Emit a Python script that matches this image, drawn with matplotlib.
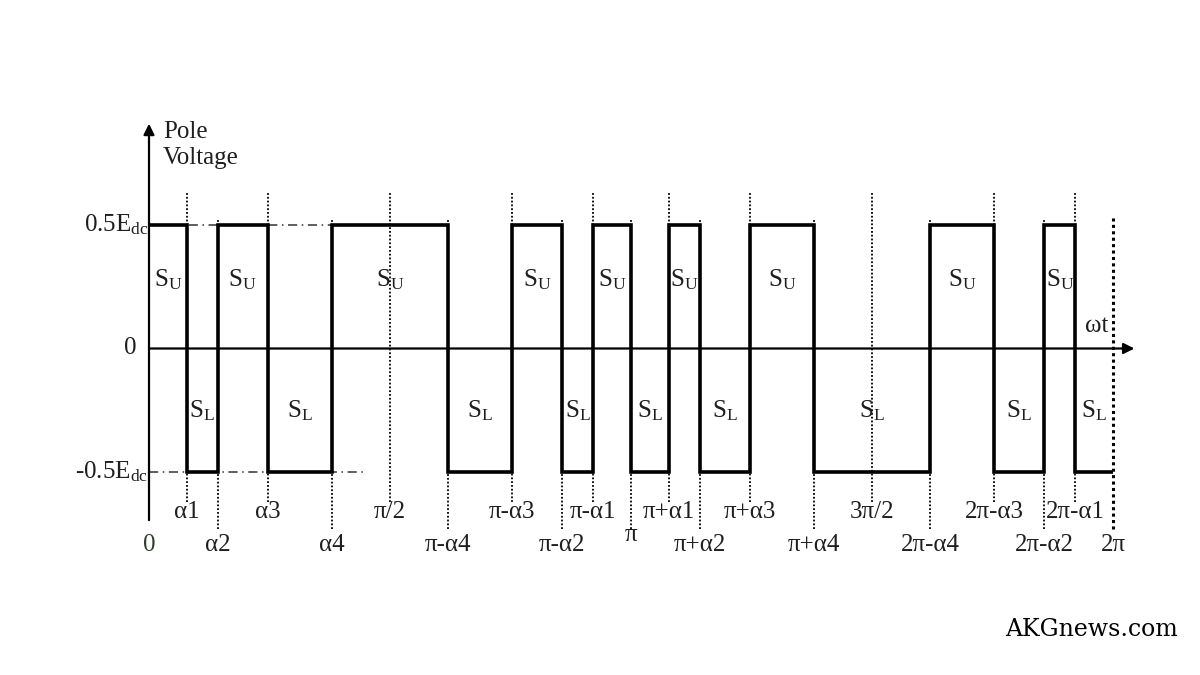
import matplotlib.pyplot as plt

plt.rcParams['font.family'] = ['Liberation Serif', 'DejaVu Serif']
plt.rcParams['mathtext.fontset'] = 'custom'
plt.rcParams['mathtext.rm'] = 'Liberation Serif'
plt.rcParams['mathtext.it'] = 'Liberation Serif:italic'

# switching angles (degrees)
alphas = [14.1, 25.6, 44.4, 68.2]
a1, a2, a3, a4 = alphas

edges = [0, a1, a2, a3, a4, 180 - a4, 180 - a3, 180 - a2, 180 - a1, 180,
         180 + a1, 180 + a2, 180 + a3, 180 + a4, 360 - a4, 360 - a3, 360 - a2, 360 - a1, 360]
pole = [0.5, -0.5, 0.5, -0.5, 0.5, -0.5, 0.5, -0.5, 0.5,
        -0.5, 0.5, -0.5, 0.5, -0.5, 0.5, -0.5, 0.5, -0.5]

tick_pos = [0, a1, a2, a3, a4, 90, 180 - a4, 180 - a3, 180 - a2, 180 - a1, 180,
            180 + a1, 180 + a2, 180 + a3, 180 + a4, 270, 360 - a4, 360 - a3, 360 - a2, 360 - a1, 360]
tick_lbl = ["0", "α1", "α2", "α3", "α4", "π/2", "π-α4", "π-α3", "π-α2", "π-α1", "π",
            "π+α1", "π+α2", "π+α3", "π+α4", "3π/2", "2π-α4", "2π-α3", "2π-α2", "2π-α1", "2π"]
tick_row = [2, 1, 2, 1, 2, 1, 2, 1, 2, 1, 2, 1, 2, 1, 2, 1, 2, 1, 2, 1, 2]

fig = plt.figure(figsize=(12, 6.75), dpi=100)
ax = fig.add_axes([0, 0, 1, 1])
ax.axis('off')
k = 964 / 360.0
ax.set_xlim(-149 / k, (1200 - 149) / k)
ax.set_ylim(-(675 - 348.5) / 247, 348.5 / 247)

txt = '#1e1e1e'
fs = 18

# dotted guide lines at the switching angles
for x, row in zip(tick_pos[1:], tick_row[1:]):
    top = 0.63 if row == 1 else 0.52
    bot = -0.62 if row == 1 else -0.73
    lw = 1.3
    if x == 360:
        top, lw = 0.54, 2.2
    ax.plot([x, x], [bot, top], color='black', lw=lw, ls=(0, (1, 1.1)), zorder=1)

# dash-dot reference levels
for lev in (0.5, -0.5):
    ax.plot([0, 80], [lev, lev], color='#333333', lw=1.1, ls=(0, (6, 3, 1, 3)), zorder=1)

# axes with arrows
ax.annotate("", xy=(368, 0), xytext=(0, 0),
            arrowprops=dict(arrowstyle='-|>', lw=1.6, color='black', mutation_scale=16, shrinkA=0, shrinkB=0))
ax.annotate("", xy=(0, 0.91), xytext=(0, -0.695),
            arrowprops=dict(arrowstyle='-|>', lw=1.6, color='black', mutation_scale=16, shrinkA=0, shrinkB=0))

# pole voltage waveform
ax.stairs(pole, edges, baseline=None, color='black', lw=2.6, zorder=3)

# S_U / S_L labels
for i, v in enumerate(pole):
    xm = (edges[i] + edges[i + 1]) / 2
    if v > 0:
        ax.text(xm, 0.28, r"S$_{\mathrm{U}}$", ha='center', va='center', fontsize=fs, color=txt)
    else:
        ax.text(xm, -0.25, r"S$_{\mathrm{L}}$", ha='center', va='center', fontsize=fs, color=txt)

# angle labels
for x, s, row in zip(tick_pos, tick_lbl, tick_row):
    y = -0.66 if row == 1 else -0.795
    c = txt
    if s == "π":
        y = -0.755
    if s == "0":
        c = '#2e3f2e'
    ax.text(x, y, s, ha='center', va='center', fontsize=fs, color=c)

# level labels
ax.text(-0.3, 0.5, r"0.5E$_{\mathrm{dc}}$", ha='right', va='center', fontsize=fs, color=txt)
ax.text(-4.5, 0.0, "0", ha='right', va='center', fontsize=fs, color=txt)
ax.text(-0.3, -0.5, r"-0.5E$_{\mathrm{dc}}$", ha='right', va='center', fontsize=fs, color=txt)
ax.text(5.2, 0.825, "Pole\nVoltage", ha='left', va='center', fontsize=fs, color=txt, linespacing=1.25)
ax.text(354, 0.09, "ωt", ha='center', va='center', fontsize=fs, color=txt)

fig.text(0.9815, 0.067, "AKGnews.com", ha='right', va='center', fontsize=17,
         family='DejaVu Serif', color='black')

fig.savefig("out.png", dpi=100, facecolor='white')
